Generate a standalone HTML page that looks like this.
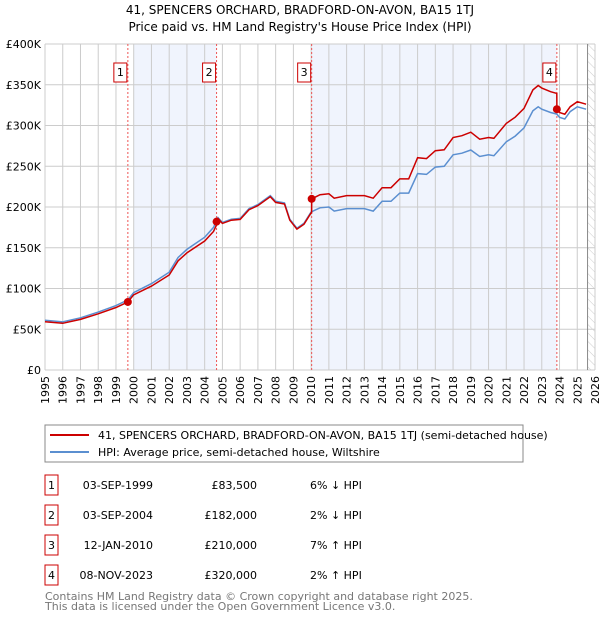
<!DOCTYPE html>
<html><head><meta charset="utf-8"><style>
body{margin:0;background:#fff;font-family:"DejaVu Sans","Liberation Sans",sans-serif;}
svg text{font-family:"DejaVu Sans","Liberation Sans",sans-serif;}
</style></head><body>
<svg id="c" width="600" height="620" xmlns="http://www.w3.org/2000/svg">
<defs><pattern id="hatch" width="6" height="6" patternUnits="userSpaceOnUse" patternTransform="rotate(-45)"><line x1="0" y1="0" x2="0" y2="6" stroke="#ccc" stroke-width="1"/></pattern></defs>
<text x="300" y="14" text-anchor="middle" font-size="12" fill="#000">41, SPENCERS ORCHARD, BRADFORD-ON-AVON, BA15 1TJ</text>
<text x="300" y="31" text-anchor="middle" font-size="12" fill="#000">Price paid vs. HM Land Registry's House Price Index (HPI)</text>
<g id="plot"></g>
<rect x="45" y="425" width="478" height="37" fill="none" stroke="#888"/>
<line x1="50" y1="435" x2="89" y2="435" stroke="#cc0000" stroke-width="2"/>
<text x="98" y="439" font-size="11">41, SPENCERS ORCHARD, BRADFORD-ON-AVON, BA15 1TJ (semi-detached house)</text>
<line x1="50" y1="452" x2="89" y2="452" stroke="#5b8fd0" stroke-width="2"/>
<text x="98" y="456" font-size="11">HPI: Average price, semi-detached house, Wiltshire</text>
<g id="tbl"></g>
<text x="45" y="600" font-size="11" fill="#777">Contains HM Land Registry data © Crown copyright and database right 2025.</text>
<text x="45" y="610" font-size="11" fill="#777">This data is licensed under the Open Government Licence v3.0.</text>
</svg>
<script>
const hpiYears=[1995,1996,1997,1998,1999,1999.67,2000,2001,2002,2002.5,2003,2004,2004.5,2004.75,2005,2005.5,2006,2006.5,2007,2007.7,2008,2008.5,2008.8,2009.2,2009.6,2010,2010.5,2011,2011.3,2012,2013,2013.5,2014,2014.5,2015,2015.5,2016,2016.5,2017,2017.5,2018,2018.5,2019,2019.5,2020,2020.3,2021,2021.5,2022,2022.5,2022.8,2023,2023.5,2023.85,2024,2024.3,2024.6,2025,2025.5];
const hpiValues=[61,59,64,71,79,86,95,106,120,138,148,163,175,187,181,185,186,198,203,214,207,205,185,174,180,194,199,200,195,198,198,195,207,207,217,217,241,240,249,250,264,266,270,262,264,263,280,287,297,318,323,320,316,314,310,308,317,323,320];
const saleYears=[1999.67,2004.67,2010.03,2023.85];
const salePrices=[83.5,182,210,320];
const saleLabels=["1","2","3","4"];
const saleDates=["03-SEP-1999","03-SEP-2004","12-JAN-2010","08-NOV-2023"];
const salePriceText=["£83,500","£182,000","£210,000","£320,000"];
const saleDiff=["6% ↓ HPI","2% ↓ HPI","7% ↑ HPI","2% ↑ HPI"];
const yTicks=[0,50,100,150,200,250,300,350,400];
const yTickLabels=["£0","£50K","£100K","£150K","£200K","£250K","£300K","£350K","£400K"];
const NS="http://www.w3.org/2000/svg";
const X=y=>45+(y-1995)*(550/31);
const Y=v=>370-v*(326/400);
const g=document.getElementById('plot');
function el(t,a,p){const e=document.createElementNS(NS,t);for(const k in a)e.setAttribute(k,a[k]);(p||g).appendChild(e);return e;}
function hpiAt(t){if(t<=hpiYears[0])return hpiValues[0];for(let i=1;i<hpiYears.length;i++){if(t<=hpiYears[i]){const f=(t-hpiYears[i-1])/(hpiYears[i]-hpiYears[i-1]);return hpiValues[i-1]+f*(hpiValues[i]-hpiValues[i-1]);}}return hpiValues[hpiValues.length-1];}
// shading
let s=el('rect',{x:X(2000),y:Y(400),width:X(saleYears[1])-X(2000),height:Y(0)-Y(400),fill:'#f0f4fd'});


s=el('rect',{x:X(saleYears[2]),y:Y(400),width:X(saleYears[3])-X(saleYears[2]),height:Y(0)-Y(400),fill:'#f0f4fd'});


s=el('rect',{x:X(2025.58),y:Y(400),width:X(2026)-X(2025.58),height:Y(0)-Y(400),fill:'url(#hatch)'});


// grid
for(let yr=1995;yr<=2026;yr++){
 const l=el('line',{x1:X(yr),x2:X(yr),y1:Y(400),y2:Y(0),stroke:'#ccc','stroke-width':1});
 
 
 const t=el('text',{x:0,y:0,'font-size':11,'text-anchor':'end',transform:`translate(${X(yr)+4},376) rotate(-90)`});
 t.textContent=yr;
 
 
}
yTicks.forEach((v,i)=>{
 const l=el('line',{x1:X(1995),x2:X(2026),y1:Y(v),y2:Y(v),stroke:'#ccc','stroke-width':1});
 
 
 const t=el('text',{x:41,y:Y(v)+4,'font-size':11,'text-anchor':'end'});
 t.textContent=yTickLabels[i];
 
 
});
const nl=el('line',{x1:X(2025.58),x2:X(2025.58),y1:Y(400),y2:Y(0),stroke:'#888','stroke-width':1});


// sale vlines + labels
saleYears.forEach((sy,i)=>{
 const l=el('line',{x1:X(sy),x2:X(sy),y1:Y(400),y2:Y(0),stroke:'#e55','stroke-width':1,'stroke-dasharray':'2,2'});
 
 
 const r=el('rect',{x:X(sy)-14,y:63,width:13,height:19,fill:'#fff',stroke:'#cc0000'});
 
 
 const t=el('text',{x:X(sy)-7.5,y:76,'font-size':11,'text-anchor':'middle'});
 t.textContent=saleLabels[i];
 
 
});
// hpi line
let d='';
hpiYears.forEach((yr,i)=>{d+=(i?'L':'M')+X(yr).toFixed(1)+','+Y(hpiValues[i]).toFixed(1);});
const hp=el('path',{d:d,fill:'none',stroke:'#5b8fd0','stroke-width':1.5});


// price line: indexed from most recent sale
function priceAt(t){let k=0;for(let i=0;i<saleYears.length;i++)if(t>=saleYears[i])k=i;return salePrices[k]*hpiAt(t)/hpiAt(saleYears[k]);}
const pts=[...new Set([...hpiYears,...saleYears,...saleYears.map(v=>v-0.001)])].sort((a,b)=>a-b);
d='';
pts.forEach((t,i)=>{d+=(i?'L':'M')+X(t).toFixed(1)+','+Y(priceAt(t)).toFixed(1);});
const pp=el('path',{d:d,fill:'none',stroke:'#cc0000','stroke-width':1.5});


saleYears.forEach((sy,i)=>{
 const c=el('circle',{cx:X(sy),cy:Y(salePrices[i]),r:4,fill:'#cc0000'});
 
 
});
// table
const tb=document.getElementById('tbl');
saleYears.forEach((sy,i)=>{
 const yc=485+i*30;
 const r=el('rect',{x:45,y:yc-10,width:13,height:20,fill:'#fff',stroke:'#cc0000'},tb);
 
 
 const vals=[[51.5,'middle',saleLabels[i],'table-index'],[153,'end',saleDates[i],'table-date'],[257,'end',salePriceText[i],'table-price'],[310,'start',saleDiff[i],'table-hpi-diff']];
 vals.forEach(v=>{
  const t=el('text',{x:v[0],y:yc+4,'font-size':11,'text-anchor':v[1]},tb);
  t.textContent=v[2];
  
  
 });
});
</script>
</body></html>
